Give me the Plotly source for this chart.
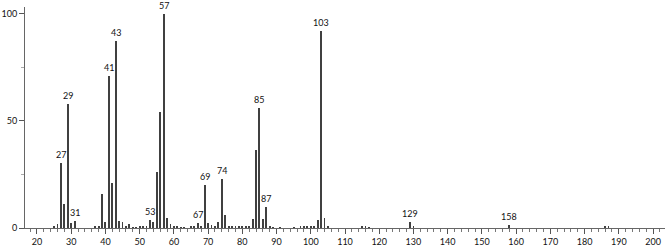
import plotly.graph_objects as go

# m/z values and relative intensities
mz = [25, 26, 27, 28, 29, 30, 31, 37, 38, 39, 40, 41, 42, 43, 44, 45, 46, 47, 48, 49, 50,
      51, 52, 53, 54, 55, 56, 57, 58, 59, 60, 61, 62, 63, 65, 66, 67, 68, 69, 70, 71, 72,
      73, 74, 75, 76, 77, 78, 79, 80, 81, 82, 83, 84, 85, 86, 87, 88, 89, 91, 95, 97, 98,
      99, 100, 101, 102, 103, 104, 105, 115, 116, 117, 129, 130, 158, 186, 187]
intensity = [1.0, 1.7, 30.3, 11.0, 58.0, 2.2, 3.5, 0.5, 0.6, 15.8, 3.0, 71.0, 20.9, 87.3, 3.5, 2.6, 0.5, 1.7, 0.4, 0.4, 0.5,
             0.8, 0.8, 3.6, 2.9, 26.0, 54.3, 100.0, 4.9, 1.7, 1.0, 1.0, 0.4, 0.4, 0.5, 0.5, 2.2, 0.5, 20.0, 2.2, 1.5, 1.0,
             3.0, 22.7, 6.0, 0.8, 0.8, 0.5, 0.8, 0.5, 0.8, 0.8, 4.0, 36.4, 56.0, 4.2, 10.0, 0.5, 0.4, 0.4, 0.4, 0.5, 0.6,
             0.6, 0.8, 1.0, 3.6, 92.0, 4.7, 0.5, 0.8, 0.5, 0.4, 2.9, 0.5, 1.5, 0.5, 0.5]

labelled_mz = [27, 29, 31, 41, 43, 53, 57, 67, 69, 74, 85, 87, 103, 129, 158]
x_tick_vals = [20, 30, 40, 50, 60, 70, 80, 90, 100, 110, 120, 130, 140, 150, 160, 170, 180, 190, 200]
y_tick_vals = [0, 50, 100]

FONT = "Lato"

fig = go.Figure()
fig.add_trace(go.Bar(
    x=mz, y=intensity, width=0.26,
    marker=dict(color="#404040", line=dict(width=0)),
    showlegend=False, hoverinfo="x+y",
))

lookup = dict(zip(mz, intensity))
for m in labelled_mz:
    fig.add_annotation(
        x=m, y=lookup[m], text=str(m), showarrow=False,
        xanchor="center", yanchor="bottom", yshift=1,
        font=dict(family=FONT, size=9, color="#111"),
    )

fig.update_layout(
    width=667, height=249,
    margin=dict(l=25, r=2, t=7, b=16),
    paper_bgcolor="white", plot_bgcolor="white",
    bargap=0,
    font=dict(family=FONT, size=9, color="#111"),
)
fig.update_xaxes(
    range=[16.5, 203.5],
    tickvals=x_tick_vals, ticktext=[str(v) for v in x_tick_vals],
    ticks="outside", ticklen=5, tickwidth=1, tickcolor="#555",
    minor=dict(dtick=2, tick0=0, ticks="outside", ticklen=3, tickcolor="#777", tickwidth=1, showgrid=False),
    showline=True, linecolor="#666", linewidth=1,
    showgrid=False, zeroline=False,
    tickfont=dict(family=FONT, size=9, color="#111"),
)
fig.update_yaxes(
    range=[0, 103.2],
    tickvals=y_tick_vals, ticktext=[str(v) for v in y_tick_vals],
    ticks="outside", ticklen=5, tickwidth=1, tickcolor="#555",
    minor=dict(tickvals=[25, 75], ticks="outside", ticklen=3, tickcolor="#aaa", tickwidth=1, showgrid=False),
    showline=True, linecolor="#666", linewidth=1,
    showgrid=False, zeroline=False,
    tickfont=dict(family=FONT, size=9, color="#111"),
)

fig.write_html("out.html")
